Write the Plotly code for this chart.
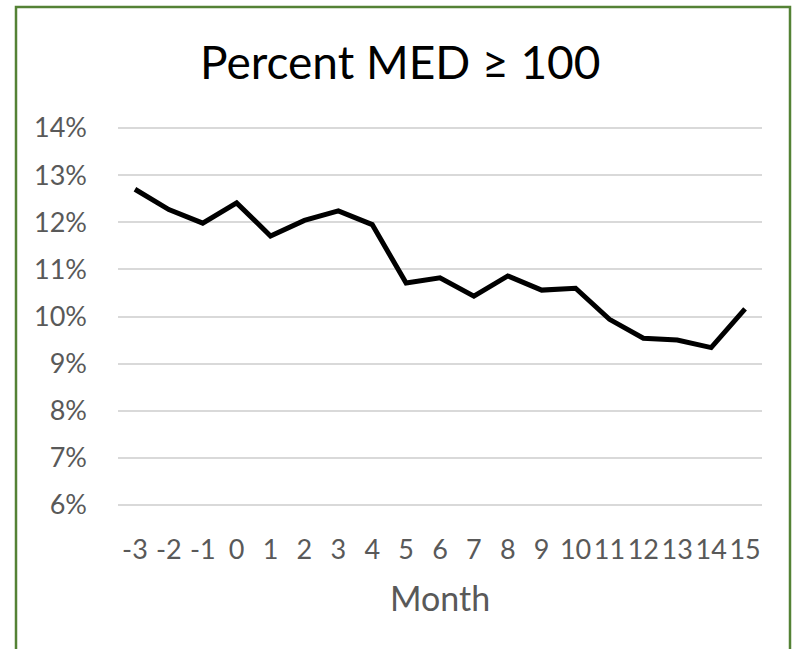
import plotly.graph_objects as go

months = ["-3", "-2", "-1", "0", "1", "2", "3", "4", "5", "6", "7", "8", "9", "10", "11", "12", "13", "14", "15"]
percent_med = [0.1270, 0.1227, 0.1198, 0.1241, 0.1171, 0.1204, 0.1224, 0.1195, 0.1071, 0.1082,
               0.1043, 0.1086, 0.1056, 0.1060, 0.0994, 0.0954, 0.0950, 0.0934, 0.1016]
y_ticks = [0.06, 0.07, 0.08, 0.09, 0.10, 0.11, 0.12, 0.13, 0.14]

W, H = 794, 649
pad = 3  # extra pixels so the 6% and 14% gridlines are drawn inside the plot area
L, R, T, B = 118, 32, 128 - pad, 144 - pad
pw, ph = W - L - R, H - T - B
per_px = 0.08 / 377
y_range = [0.06 - pad * per_px, 0.14 + pad * per_px]

fig = go.Figure()
fig.add_trace(go.Scatter(x=months, y=percent_med, mode="lines",
                         line=dict(color="black", width=5), hoverinfo="skip"))

font_family = "Lato, 'Open Sans', sans-serif"

def px_x(x):
    return (x - L) / pw

def px_y(y):
    return (H - B - y) / ph

fig.update_layout(
    width=W, height=H,
    margin=dict(l=L, r=R, t=T, b=B),
    paper_bgcolor="white", plot_bgcolor="white",
    showlegend=False,
    font=dict(family=font_family, color="#595959"),
    xaxis=dict(type="category", showgrid=False, zeroline=False, showline=False,
               ticks="", tickfont=dict(size=27, color="#595959"),
               ticklabelstandoff=26 - pad, range=[-0.5, 18.5]),
    yaxis=dict(range=y_range, tickvals=y_ticks, tickformat=".0%",
               showgrid=True, gridcolor="#d9d9d9", gridwidth=1.5, zeroline=False,
               showline=False, ticks="", tickfont=dict(size=27, color="#595959"),
               ticklabelstandoff=30),
    annotations=[
        dict(text="Percent MED ≥ 100", x=px_x(400), y=px_y(61), xref="paper", yref="paper",
             showarrow=False, xanchor="center", yanchor="middle",
             font=dict(size=46, color="black", family=font_family)),
        dict(text="Month", x=px_x(440), y=px_y(597), xref="paper", yref="paper",
             showarrow=False, xanchor="center", yanchor="middle",
             font=dict(size=34, color="#595959", family=font_family)),
    ],
    shapes=[
        dict(type="path", xref="paper", yref="paper",
             path=f"M {px_x(16)},{px_y(700)} L {px_x(16)},{px_y(7)} L {px_x(790)},{px_y(7)} L {px_x(790)},{px_y(700)}",
             line=dict(color="#548235", width=2.5), layer="above"),
    ],
)

fig.write_html("out.html", config={"displayModeBar": False},
               post_script="document.body.style.margin='0px';document.body.style.overflow='hidden';")
